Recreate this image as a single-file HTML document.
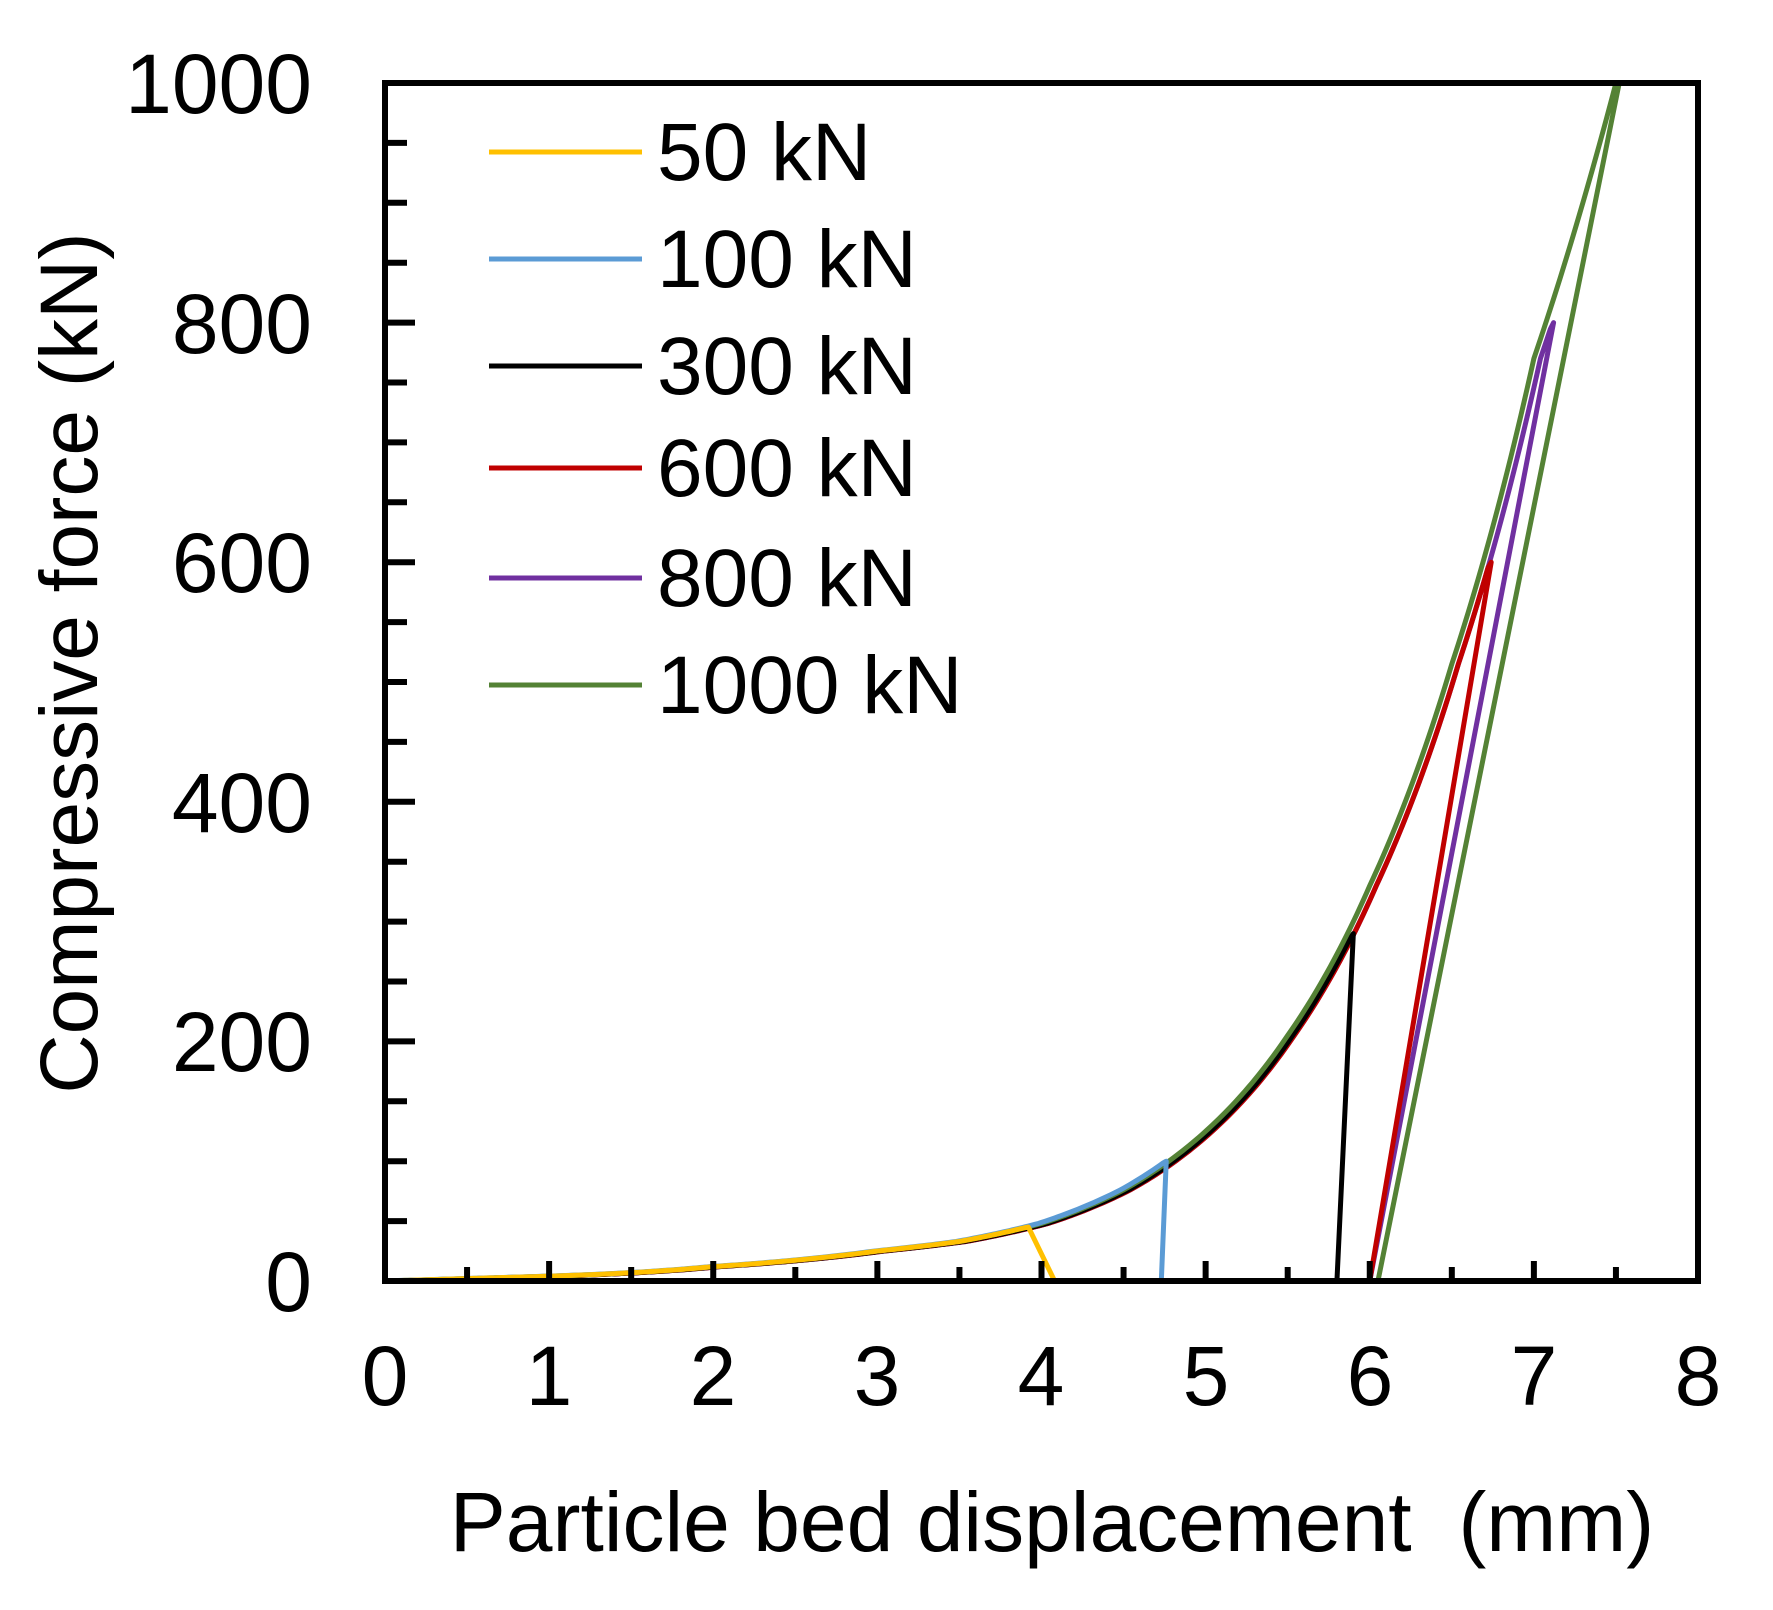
<!DOCTYPE html>
<html><head><meta charset="utf-8"><style>
html,body{margin:0;padding:0;background:#fff}
svg{display:block}
text{font-family:"Liberation Sans",Arial,sans-serif;fill:#000}
</style></head><body>
<svg id="s" width="1773" height="1610" viewBox="0 0 1773 1610" xmlns="http://www.w3.org/2000/svg">
<g id="curves" fill="none" stroke-width="5" stroke-linejoin="round"></g>
<rect x="385" y="83" width="1313" height="1198" fill="none" stroke="#000" stroke-width="6"/>
<g id="ticks" stroke="#000" stroke-width="6"></g>
<g font-size="84" text-anchor="end">
<text x="312" y="1311">0</text><text x="312" y="1071">200</text><text x="312" y="832">400</text>
<text x="312" y="592">600</text><text x="312" y="353">800</text><text x="312" y="113">1000</text>
</g>
<g font-size="84" text-anchor="middle">
<text x="385" y="1405">0</text><text x="549" y="1405">1</text><text x="713" y="1405">2</text>
<text x="877" y="1405">3</text><text x="1041" y="1405">4</text><text x="1206" y="1405">5</text>
<text x="1370" y="1405">6</text><text x="1534" y="1405">7</text><text x="1698" y="1405">8</text>
</g>
<text x="1052" y="1551" font-size="84" text-anchor="middle" xml:space="preserve" style="white-space:pre">Particle bed displacement  (mm)</text>
<text transform="translate(97,663) rotate(-90)" font-size="82" text-anchor="middle">Compressive force (kN)</text>
<g stroke-width="5">
<line x1="489" y1="152" x2="642" y2="152" stroke="#ffc000"/>
<line x1="489" y1="259" x2="642" y2="259" stroke="#5b9bd5"/>
<line x1="489" y1="366" x2="642" y2="366" stroke="#000"/>
<line x1="489" y1="468" x2="642" y2="468" stroke="#c00000"/>
<line x1="489" y1="578" x2="642" y2="578" stroke="#7030a0"/>
<line x1="489" y1="685" x2="642" y2="685" stroke="#548235"/>
</g>
<g font-size="82">
<text x="657" y="180">50 kN</text><text x="657" y="287">100 kN</text><text x="657" y="394">300 kN</text>
<text x="657" y="496">600 kN</text><text x="657" y="606">800 kN</text><text x="657" y="713">1000 kN</text>
</g>
</svg>
<script>
var X=function(v){return 385+v*164.125}, Y=function(f){return 1281-f*1.198};
var tk=document.getElementById('ticks'), h='';
for(var i=1;i<20;i++){var y=Y(i*50);var L=(i%4==0)?30:22;h+='<line x1="385" y1="'+y+'" x2="'+(385+L)+'" y2="'+y+'"/>';}
for(var j=1;j<16;j++){var x=X(j*0.5);h+='<line x1="'+x+'" y1="1281" x2="'+x+'" y2="'+(1281-(j%2?14:20))+'"/>';}
tk.innerHTML=h;
var P=[[0,0],[1,4],[2,12],[3,25],[3.5,33],[4,48],[4.5,76],[5,125],[5.5,205],[6,330],[6.5,515],[7,770],[7.5,1000]];
function F(x){if(x<=0)return 0;for(var k=1;k<P.length;k++){if(x<=P[k][0]){var a=P[k-1],b=P[k],t=(x-a[0])/(b[0]-a[0]);var r=b[1]/Math.max(a[1],1e-3);return a[1]>0?a[1]*Math.pow(r,t):b[1]*t;}}return 1000;}
function curve(shift,peak,endX,col){var pts=[],x=0;while(true){var f=F(x-shift);if(f>=peak||x>7.6)break;pts.push(X(x)+','+Y(f));x+=0.02;}
var xp=x;pts.push(X(xp)+','+Y(peak));pts.push(X(endX)+','+Y(0));return '<polyline stroke="'+col+'" points="'+pts.join(' ')+'"/>';}
var c='';
c+=curve(0.04,800,6.0,'#7030a0');
c+=curve(0.04,600,6.0,'#c00000');
c+=curve(0.03,290,5.8,'#000');
c+=curve(0.0,1000,6.05,'#548235');
c+=curve(-0.02,100,4.73,'#5b9bd5');
c+=curve(0.0,45,4.08,'#ffc000');
document.getElementById('curves').innerHTML=c;
</script>
</body></html>
